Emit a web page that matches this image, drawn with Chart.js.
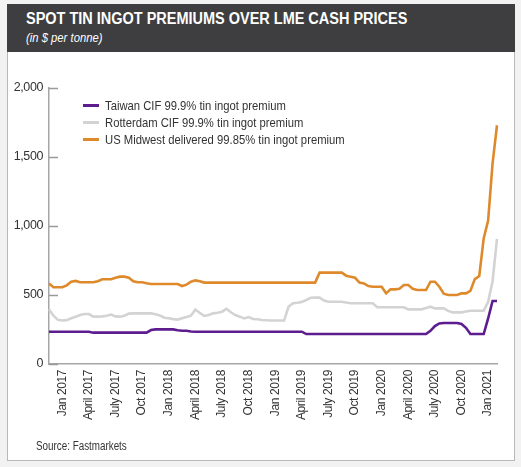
<!DOCTYPE html>
<html>
<head>
<meta charset="utf-8">
<script src="https://cdn.jsdelivr.net/npm/chart.js@4/dist/chart.umd.min.js"></script>
<style>
  html, body { margin: 0; padding: 0; }
  body {
    width: 521px; height: 467px; position: relative; overflow: hidden;
    background: #f2f2f2;
    font-family: 'Liberation Sans', Arial, sans-serif;
    color: #333;
  }
  #frame {
    position: absolute; left: 7px; top: 4px; width: 508px; height: 457px;
    background: #fff; border: 1px solid #b8b8b8; box-sizing: border-box;
  }
  #header {
    position: absolute; left: 7px; top: 4px; width: 508px; height: 48px;
    background: #3e3e40;
  }
  .narrow { transform-origin: 0 0; white-space: nowrap; }
  #title {
    position: absolute; left: 26px; top: 10px; color: #fff;
    font-weight: bold; font-size: 16px; transform: scaleX(0.905);
  }
  #subtitle {
    position: absolute; left: 26px; top: 31px; color: #fff;
    font-style: italic; font-size: 12px; transform: scaleX(0.94);
  }
  #legend {
    position: absolute; left: 83px; top: 97px; font-size: 13px; line-height: 17px;
  }
  #legend div { white-space: nowrap; height: 17px; }
  #legend span.sw {
    display: inline-block; width: 16px; height: 3px; vertical-align: middle;
    position: relative; top: -1px;
  }
  #legend span.txt {
    display: inline-block; margin-left: 6px; transform: scaleX(0.866); transform-origin: 0 50%;
  }
  #source {
    position: absolute; left: 36px; top: 439px; font-size: 12px; transform: scaleX(0.82);
  }
  #chart { position: absolute; left: 0; top: 0; }
</style>
</head>
<body>
<div id="frame"></div>
<div id="header"></div>
<div id="title" class="narrow">SPOT TIN INGOT PREMIUMS OVER LME CASH PRICES</div>
<div id="subtitle" class="narrow">(in $ per tonne)</div>
<canvas id="chart" width="521" height="467"></canvas>
<div id="legend"></div>
<div id="source" class="narrow">Source: Fastmarkets</div>
<script>
// semi-monthly observations, mid-Nov 2016 to Feb 2021
const dates = [
  '2016-11-15','2016-12-01','2016-12-15',
  '2017-01-01','2017-01-15','2017-02-01','2017-02-15','2017-03-01','2017-03-15','2017-04-01','2017-04-15',
  '2017-05-01','2017-05-15','2017-06-01','2017-06-15','2017-07-01','2017-07-15','2017-08-01','2017-08-15',
  '2017-09-01','2017-09-15','2017-10-01','2017-10-15','2017-11-01','2017-11-15','2017-12-01','2017-12-15',
  '2018-01-01','2018-01-15','2018-02-01','2018-02-15','2018-03-01','2018-03-15','2018-04-01','2018-04-15',
  '2018-05-01','2018-05-15','2018-06-01','2018-06-15','2018-07-01','2018-07-15','2018-08-01','2018-08-15',
  '2018-09-01','2018-09-15','2018-10-01','2018-10-15','2018-11-01','2018-11-15','2018-12-01','2018-12-15',
  '2019-01-01','2019-01-15','2019-02-01','2019-02-15','2019-03-01','2019-03-15','2019-04-01','2019-04-15',
  '2019-05-01','2019-05-15','2019-06-01','2019-06-15','2019-07-01','2019-07-15','2019-08-01','2019-08-15',
  '2019-09-01','2019-09-15','2019-10-01','2019-10-15','2019-11-01','2019-11-15','2019-12-01','2019-12-15',
  '2020-01-01','2020-01-15','2020-02-01','2020-02-15','2020-03-01','2020-03-15','2020-04-01','2020-04-15',
  '2020-05-01','2020-05-15','2020-06-01','2020-06-15','2020-07-01','2020-07-15','2020-08-01','2020-08-15',
  '2020-09-01','2020-09-15','2020-10-01','2020-10-15','2020-11-01','2020-11-15','2020-12-01','2020-12-15',
  '2021-01-01','2021-01-15','2021-02-01'
];

const taiwan = [
  234,234,234,234,234,234,234,234,234,234,
  227,227,227,227,227,227,227,227,227,227,
  227,227,227,246,251,251,251,251,251,245,
  241,241,236,234,234,234,234,234,234,234,
  234,234,234,234,234,234,234,234,234,234,
  234,234,234,234,234,234,234,234,217,217,
  217,217,217,217,217,217,217,217,217,217,
  217,217,217,217,217,217,217,217,217,217,
  217,217,217,217,217,217,240,275,294,297,
  297,297,297,290,262,217,217,217,217,330,
  457,457
];

const rotterdam = [
  396,350,320,315,318,331,343,355,362,362,
  343,343,345,350,358,345,343,350,365,367,
  367,367,367,367,360,352,335,331,325,322,
  331,340,350,395,370,348,355,367,372,379,
  400,375,355,343,330,340,326,324,319,317,
  315,315,315,315,415,440,444,450,464,480,
  481,481,460,451,451,451,451,445,440,440,
  440,440,440,440,411,411,411,411,411,411,
  411,396,396,396,396,405,415,403,403,403,
  385,374,374,374,380,386,386,386,386,451,
  600,906
];

const usMidwest = [
  584,556,556,556,570,596,602,592,592,592,
  592,600,614,614,614,625,633,633,625,600,
  592,592,585,580,580,580,580,580,580,580,
  565,575,596,606,600,590,590,590,590,590,
  590,590,590,590,590,590,590,590,590,590,
  590,590,590,590,590,590,590,590,590,590,
  590,662,662,662,662,662,662,640,633,625,
  590,584,565,560,560,560,512,541,541,545,
  572,572,545,536,536,536,596,596,560,510,
  500,500,500,512,512,530,615,638,910,1040,
  1454,1730
];

const tickDates = ['2017-01-01','2017-04-01','2017-07-01','2017-10-01',
  '2018-01-01','2018-04-01','2018-07-01','2018-10-01',
  '2019-01-01','2019-04-01','2019-07-01','2019-10-01',
  '2020-01-01','2020-04-01','2020-07-01','2020-10-01','2021-01-01'];
const tickTexts = ['Jan 2017','April 2017','July 2017','Oct 2017',
  'Jan 2018','April 2018','July 2018','Oct 2018',
  'Jan 2019','April 2019','July 2019','Oct 2019',
  'Jan 2020','April 2020','July 2020','Oct 2020','Jan 2021'];

const seriesNames = ['Taiwan CIF 99.9% tin ingot premium',
  'Rotterdam CIF 99.9% tin ingot premium',
  'US Midwest delivered 99.85% tin ingot premium'];
const seriesColors = ['#5e1d8f', '#d3d3d3', '#de8a2c'];

const FONT = "'Liberation Sans', Arial, sans-serif";

// legend (html, top-left of plot)
const legend = document.getElementById('legend');
seriesNames.forEach((name, i) => {
  const row = document.createElement('div');
  row.innerHTML = '<span class="sw" style="background:' + seriesColors[i] + '"></span>' +
    '<span class="txt">' + name + '</span>';
  legend.appendChild(row);
});

// squeeze the canvas text a bit, the original uses a narrow face
const narrowText = {
  id: 'narrowText',
  beforeDraw(chart) {
    if ('letterSpacing' in chart.ctx) chart.ctx.letterSpacing = '-0.4px';
  }
};

// y ticks drawn inward, like the original
const innerTicks = {
  id: 'innerTicks',
  afterDraw(chart) {
    const y = chart.scales.y;
    const ctx = chart.ctx;
    ctx.save();
    ctx.strokeStyle = '#9a9a9a';
    ctx.lineWidth = 1.5;
    y.ticks.forEach(t => {
      const py = Math.round(y.getPixelForValue(t.value)) + 0.5;
      ctx.beginPath();
      ctx.moveTo(y.right, py);
      ctx.lineTo(y.right + 9, py);
      ctx.stroke();
    });
    ctx.restore();
  }
};

const series = [taiwan, rotterdam, usMidwest];

const ctx = document.getElementById('chart').getContext('2d');
if ('letterSpacing' in ctx) ctx.letterSpacing = '-0.4px';

new Chart(ctx, {
  type: 'line',
  data: {
    labels: dates,
    datasets: series.map((vals, i) => ({
      label: seriesNames[i],
      data: vals,
      borderColor: seriesColors[i],
      borderWidth: 2.6,
      pointRadius: 0,
      tension: 0,
      fill: false
    }))
  },
  options: {
    responsive: false,
    animation: false,
    layout: { padding: { left: 0, right: 24, top: 88, bottom: 0 } },
    plugins: { legend: { display: false }, tooltip: { enabled: false } },
    scales: {
      x: {
        type: 'category',
        offset: false,
        grid: { display: true, drawOnChartArea: false, drawTicks: false, tickLength: 0 },
        border: { display: true, color: '#a6a6a6', width: 1.5 },
        ticks: {
          autoSkip: false,
          maxRotation: 90,
          minRotation: 90,
          padding: 6,
          color: '#333',
          font: { family: FONT, size: 12 },
          callback: function(val, idx) {
            const k = tickDates.indexOf(dates[idx]);
            return k >= 0 ? tickTexts[k] : null;
          }
        },
        afterFit: s => { s.height = 103; }
      },
      y: {
        min: 0,
        max: 2000,
        grid: { display: true, drawOnChartArea: false, drawTicks: false, tickLength: 0 },
        border: { display: true, color: '#a6a6a6', width: 1.5 },
        ticks: {
          stepSize: 500,
          padding: 6,
          color: '#333',
          font: { family: FONT, size: 12.5 }
        },
        afterFit: s => { s.width = 49; }
      }
    }
  },
  plugins: [narrowText, innerTicks]
});
</script>
</body>
</html>
